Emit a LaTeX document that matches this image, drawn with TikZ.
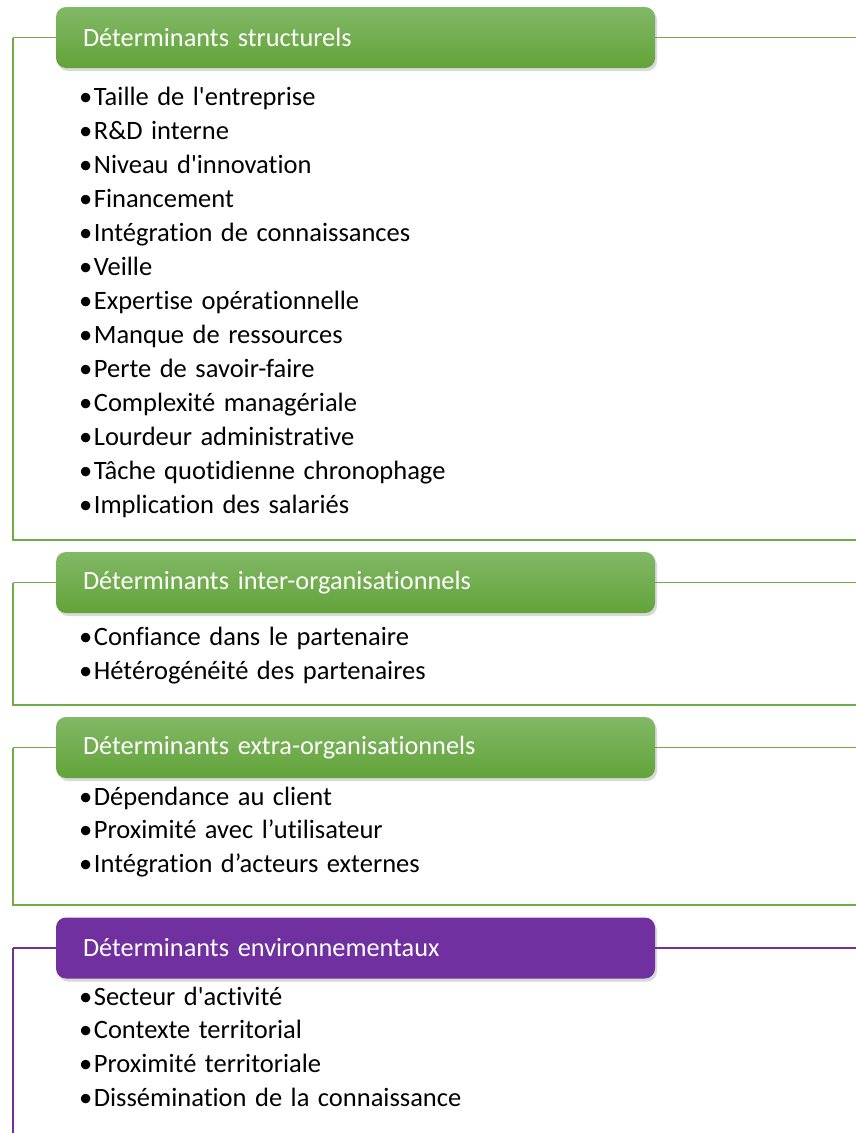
\documentclass[tikz,border=0pt]{standalone}
\usepackage{fontspec}
\setmainfont{Carlito}[Ligatures={NoCommon,NoContextual}]
\usetikzlibrary{shadows}
\definecolor{grnTop}{HTML}{82B866}
\definecolor{grnBot}{HTML}{62A339}
\definecolor{grnLine}{HTML}{70AD47}
\definecolor{purp}{HTML}{7030A0}
\newcommand\itemfont{\fontsize{26.5}{30}\selectfont\spaceskip=8.5pt\relax}
\tikzset{
  hdr/.style={rounded corners=10pt, minimum width=599pt, minimum height=61pt,
    text width=545pt, inner xsep=27pt, align=left, text=white,
    font=\fontsize{26.3}{30}\selectfont,
    drop shadow={shadow xshift=2pt, shadow yshift=-3pt, opacity=.3}},
  grnhdr/.style={hdr, top color=grnTop, bottom color=grnBot},
  purhdr/.style={hdr, fill=purp},
  item/.style={anchor=base west, inner sep=0pt, font=\itemfont},
  frame/.style={line width=1.8pt}
}
\begin{document}
\begin{tikzpicture}[x=1pt,y=-1pt]
  \useasboundingbox (0,0) rectangle (856,1133);

  % structurels
  \coordinate (s-nw) at (13,37.5);
  \coordinate (s-sw) at (13,540);
  \coordinate (s-se) at (856,540);
  \coordinate (s-ne) at (856,37.5);
  \draw[frame,grnLine] (s-nw) -- (s-sw) -- (s-se);
  \node[grnhdr] (sh) at (355.5,37.5) {Déterminants structurels};
  \draw[frame,grnLine] (sh.west) -- (s-nw);
  \draw[frame,grnLine] (sh.east) -- (s-ne);
  \foreach \t [count=\i from 0] in {Taille de l\textquotesingle entreprise, R\&D interne,
      Niveau d\textquotesingle innovation, Financement, Intégration de connaissances,
      Veille, Expertise opérationnelle, Manque de ressources, Perte de savoir-faire,
      Complexité managériale, Lourdeur administrative, Tâche quotidienne chronophage,
      Implication des salariés}
    \node[item] (s\i) at (79,105+34*\i) {•\kern1.5pt\t};

  % inter-organisationnels
  \coordinate (io-nw) at (13,582.5);
  \coordinate (io-sw) at (13,705);
  \coordinate (io-se) at (856,705);
  \coordinate (io-ne) at (856,582.5);
  \draw[frame,grnLine] (io-nw) -- (io-sw) -- (io-se);
  \node[grnhdr] (ioh) at (355.5,582.5) {Déterminants inter-organisationnels};
  \draw[frame,grnLine] (ioh.west) -- (io-nw);
  \draw[frame,grnLine] (ioh.east) -- (io-ne);
  \foreach \t [count=\i from 0] in {Confiance dans le partenaire, Hétérogénéité des partenaires}
    \node[item] (io\i) at (79,645+34*\i) {•\kern1.5pt\t};

  % extra-organisationnels
  \coordinate (eo-nw) at (13,747.5);
  \coordinate (eo-sw) at (13,905);
  \coordinate (eo-se) at (856,905);
  \coordinate (eo-ne) at (856,747.5);
  \draw[frame,grnLine] (eo-nw) -- (eo-sw) -- (eo-se);
  \node[grnhdr] (eoh) at (355.5,747.5) {Déterminants extra-organisationnels};
  \draw[frame,grnLine] (eoh.west) -- (eo-nw);
  \draw[frame,grnLine] (eoh.east) -- (eo-ne);
  \foreach \t [count=\i from 0] in {Dépendance au client, Proximité avec l’utilisateur,
      Intégration d’acteurs externes}
    \node[item] (eo\i) at (79,805+33.5*\i) {•\kern1.5pt\t};

  % environnementaux
  \coordinate (en-nw) at (13,948);
  \coordinate (en-sw) at (13,1133);
  \coordinate (en-ne) at (856,948);
  \draw[frame,purp] (en-nw) -- (en-sw);
  \node[purhdr] (enh) at (355.5,948) {Déterminants environnementaux};
  \draw[frame,purp] (enh.west) -- (en-nw);
  \draw[frame,purp] (enh.east) -- (en-ne);
  \foreach \t [count=\i from 0] in {Secteur d\textquotesingle activité, Contexte territorial,
      Proximité territoriale, Dissémination de la connaissance}
    \node[item] (en\i) at (79,1005+33.7*\i) {•\kern1.5pt\t};
\end{tikzpicture}
\end{document}
